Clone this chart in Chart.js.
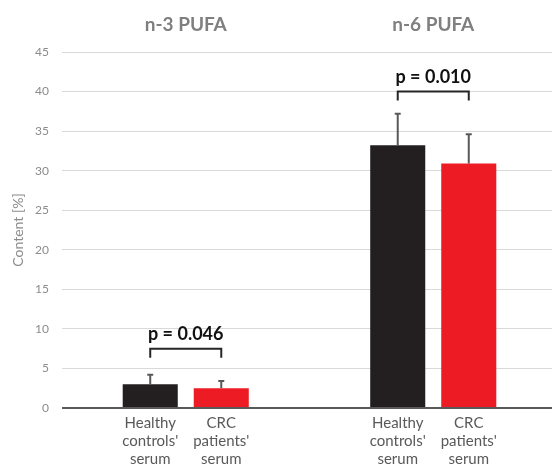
<!DOCTYPE html>
<html>
<head>
<meta charset="utf-8">
<script src="https://cdn.jsdelivr.net/npm/chart.js@4/dist/chart.umd.min.js"></script>
<style>
  html, body { margin: 0; padding: 0; background: #fff; overflow: hidden; }
  #wrap { width: 552px; height: 464px; overflow: hidden; }
</style>
</head>
<body>
<div id="wrap"><canvas id="chart" width="557" height="464"></canvas></div>
<script>
// Chart data
const groups = ['n-3 PUFA', 'n-6 PUFA'];
const seriesNames = ["Healthy controls' serum", "CRC patients' serum"];
const barLabels = [['Healthy', "controls'", 'serum'], ['CRC', "patients'", 'serum']];
const healthy = [3.0, 33.2];
const crc = [2.5, 30.9];
const healthySd = [1.2, 4.0];
const crcSd = [0.9, 3.7];
const pValues = ['p = 0.046', 'p = 0.010'];
const bracketLevel = [7.5, 40];
const yMin = 0, yMax = 45, yStep = 5;

const barColors = ['#231f20', '#ed1c24'];
const sdArrays = [healthySd, crcSd];
const FONT = 'Lato, "Open Sans", sans-serif';

// Error bars (upper only)
const errorBars = {
    id: 'errorBars',
    afterDatasetsDraw(chart) {
        const ctx = chart.ctx;
        const y = chart.scales.y;
        ctx.save();
        ctx.strokeStyle = '#595959';
        ctx.lineWidth = 2;
        chart.data.datasets.forEach((ds, i) => {
            const meta = chart.getDatasetMeta(i);
            meta.data.forEach((bar, j) => {
                const top = y.getPixelForValue(ds.data[j] + sdArrays[i][j]);
                ctx.beginPath();
                ctx.moveTo(bar.x, bar.y);
                ctx.lineTo(bar.x, top);
                ctx.moveTo(bar.x - 3, top);
                ctx.lineTo(bar.x + 3, top);
                ctx.stroke();
            });
        });
        ctx.restore();
    }
};

// Significance brackets and per-bar labels
const annotations = {
    id: 'annotations',
    afterDraw(chart) {
        const ctx = chart.ctx;
        const y = chart.scales.y;
        const m0 = chart.getDatasetMeta(0);
        const m1 = chart.getDatasetMeta(1);
        ctx.save();
        groups.forEach((g, j) => {
            const x1 = m0.data[j].x;
            const x2 = m1.data[j].x;
            const yb = y.getPixelForValue(bracketLevel[j]);
            ctx.strokeStyle = '#262626';
            ctx.lineWidth = 2;
            ctx.beginPath();
            ctx.moveTo(x1, yb + 9);
            ctx.lineTo(x1, yb);
            ctx.lineTo(x2, yb);
            ctx.lineTo(x2, yb + 9);
            ctx.stroke();
            ctx.fillStyle = '#111';
            ctx.font = 'bold 18px ' + FONT;
            ctx.textAlign = 'center';
            ctx.textBaseline = 'alphabetic';
            ctx.fillText(pValues[j], (x1 + x2) / 2, yb - 9);
        });
        ctx.fillStyle = '#595959';
        ctx.font = '15px ' + FONT;
        ctx.textAlign = 'center';
        ctx.textBaseline = 'middle';
        [m0, m1].forEach((meta, i) => {
            meta.data.forEach(bar => {
                barLabels[i].forEach((line, k) => {
                    ctx.fillText(line, bar.x, chart.chartArea.bottom + 15 + k * 18);
                });
            });
        });
        ctx.restore();
    }
};

new Chart(document.getElementById('chart'), {
    type: 'bar',
    data: {
        labels: groups,
        datasets: [
            { label: seriesNames[0], data: healthy, backgroundColor: barColors[0] },
            { label: seriesNames[1], data: crc, backgroundColor: barColors[1] }
        ]
    },
    options: {
        responsive: false,
        animation: false,
        categoryPercentage: 0.574,
        barPercentage: 0.775,
        layout: { padding: { left: 0, right: 0, top: 0, bottom: 56 } },
        plugins: { legend: { display: false }, tooltip: { enabled: false } },
        scales: {
            x: {
                position: 'top',
                grid: { display: false },
                border: { display: false },
                ticks: { color: '#7f7f7f', font: { family: FONT, size: 19, weight: 'bold' }, padding: 8 },
                afterFit: s => { s.height = 52; }
            },
            y: {
                min: yMin,
                max: yMax,
                ticks: { stepSize: yStep, color: '#8c8c8c', font: { family: FONT, size: 12 }, padding: 13 },
                grid: {
                    drawTicks: false,
                    color: c => c.tick.value === 0 ? '#595959' : '#d9d9d9',
                    lineWidth: c => c.tick.value === 0 ? 2 : 1
                },
                border: { display: false },
                title: {
                    display: true,
                    text: 'Content [%]',
                    color: '#8c8c8c',
                    font: { family: FONT, size: 14 },
                    padding: { top: 10, bottom: 0 }
                },
                afterFit: s => { s.width = 62; }
            }
        }
    },
    plugins: [errorBars, annotations]
});
</script>
</body>
</html>
